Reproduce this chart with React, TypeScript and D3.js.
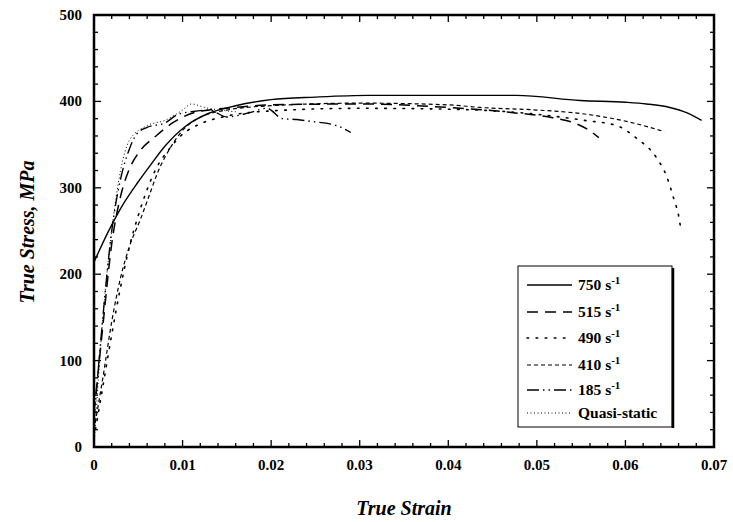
import React from 'react';
import * as d3 from 'd3';

// strain (x) / stress in MPa (y)
const s750: [number, number][] = [
  [0, 214], [0.0016, 249], [0.003, 276], [0.005, 307], [0.0065, 328], [0.008, 348], [0.0103, 371],
  [0.0129, 386], [0.016, 395], [0.02, 402], [0.025, 405], [0.031, 407], [0.0436, 407], [0.0477, 407],
  [0.0549, 401], [0.06, 399], [0.0624, 397], [0.065, 393], [0.0669, 387], [0.0686, 378],
];
const s515: [number, number][] = [
  [0, 40], [0.001, 140], [0.002, 235], [0.003, 290], [0.004, 322], [0.005, 340], [0.007, 360],
  [0.009, 376], [0.011, 386], [0.013, 390], [0.016, 393], [0.02, 396], [0.03, 397], [0.04, 393],
  [0.0473, 387], [0.0518, 381], [0.0545, 374], [0.056, 366], [0.057, 358],
];
const s490: [number, number][] = [
  [0, 10], [0.001, 70], [0.002, 130], [0.003, 185], [0.004, 232], [0.005, 268], [0.006, 298],
  [0.007, 322], [0.0085, 345], [0.01, 362], [0.012, 374], [0.015, 383], [0.02, 389], [0.03, 392],
  [0.04, 391], [0.048, 387], [0.0554, 378], [0.059, 372], [0.0613, 357], [0.0635, 335],
  [0.0647, 312], [0.0655, 286], [0.066, 268], [0.0663, 249],
];
const s410: [number, number][] = [
  [0, 20], [0.001, 80], [0.002, 145], [0.003, 196], [0.004, 232], [0.0053, 265], [0.0063, 293],
  [0.0072, 318], [0.0086, 346], [0.0098, 364], [0.0117, 380], [0.015, 390], [0.02, 395],
  [0.03, 398], [0.04, 396], [0.0436, 393], [0.05, 390], [0.0549, 386], [0.0605, 376], [0.0644, 365],
];
const s185: [number, number][] = [
  [0, 30], [0.001, 150], [0.002, 250], [0.003, 310], [0.004, 345], [0.0048, 362], [0.006, 370],
  [0.008, 375], [0.0095, 385], [0.011, 388], [0.013, 390], [0.015, 382], [0.0176, 387],
  [0.0195, 392], [0.0213, 380], [0.0229, 379], [0.0244, 377], [0.0274, 372], [0.029, 364],
];
const sQuasi: [number, number][] = [
  [0, 0], [0.001, 150], [0.002, 250], [0.003, 320], [0.004, 355], [0.006, 372], [0.008, 378],
  [0.01, 390], [0.011, 397], [0.0125, 393], [0.015, 389], [0.016, 388],
];

const seriesNames = ['750', '515', '490', '410', '185', 'Quasi-static'];
const seriesData = [s750, s515, s490, s410, s185, sQuasi];
const dashes = ['', '11,7', '1.6,7.5', '4,3', '12,4,1.5,4,1.5,4', '1,2.5'];
const widths = [1.4, 1.5, 1.6, 1.2, 1.4, 1];

const xTicks = [0, 0.01, 0.02, 0.03, 0.04, 0.05, 0.06, 0.07];
const yTicks = [0, 100, 200, 300, 400, 500];

const font = '"Liberation Serif", "DejaVu Serif", serif';

export default function App() {
  const x = d3.scaleLinear().domain([0, 0.07]).range([94, 714]);
  const y = d3.scaleLinear().domain([0, 500]).range([447, 15]);
  const line = d3.line<[number, number]>().x(d => x(d[0])).y(d => y(d[1])).curve(d3.curveMonotoneX);

  const xMinor = d3.range(0, 0.0701, 0.002);
  const yMinor = d3.range(0, 501, 20);

  const lx = 518, ly = 266, lw = 154, lh = 161;
  const rowY = [285, 312, 338, 365, 390, 413];

  return (
    <svg width={733} height={522} style={{ position: 'absolute', left: 0, top: 0 }}>
      <rect width={733} height={522} fill="#fff" />
      {/* ticks, inward on all four sides */}
      <g stroke="#000" strokeWidth={1.3}>
        {xMinor.map((v, i) => {
          const len = i % 5 === 0 ? 7 : 4;
          return (
            <g key={'x' + i}>
              <line x1={x(v)} x2={x(v)} y1={447} y2={447 - len} />
              <line x1={x(v)} x2={x(v)} y1={15} y2={15 + len} />
            </g>
          );
        })}
        {yMinor.map((v, i) => {
          const len = i % 5 === 0 ? 7 : 4;
          return (
            <g key={'y' + i}>
              <line x1={94} x2={94 + len} y1={y(v)} y2={y(v)} />
              <line x1={714} x2={714 - len} y1={y(v)} y2={y(v)} />
            </g>
          );
        })}
      </g>
      <rect x={94} y={15} width={620} height={432} fill="none" stroke="#000" strokeWidth={2.5} />
      {xTicks.map(v => (
        <text key={v} x={x(v)} y={470} textAnchor="middle" fontFamily={font} fontSize={15} fontWeight="bold">
          {v === 0 ? '0' : d3.format('.2f')(v)}
        </text>
      ))}
      {yTicks.map(v => (
        <text key={v} x={82} y={y(v) + 5} textAnchor="end" fontFamily={font} fontSize={15} fontWeight="bold">
          {v}
        </text>
      ))}
      <text x={404} y={515} textAnchor="middle" fontFamily={font} fontSize={20} fontWeight="bold" fontStyle="italic">
        True Strain
      </text>
      <text transform="translate(34,232) rotate(-90)" textAnchor="middle" fontFamily={font} fontSize={20}
        fontWeight="bold" fontStyle="italic">
        True Stress, MPa
      </text>
      <g fill="none" stroke="#000">
        {seriesData.map((d, i) => (
          <path key={i} d={line(d) || ''} strokeWidth={widths[i]} strokeDasharray={dashes[i]}
            strokeLinecap={i === 2 ? 'round' : 'butt'} />
        ))}
      </g>
      {/* legend */}
      <rect x={lx} y={ly} width={lw} height={lh} fill="#fff" stroke="#000" strokeWidth={1} />
      <line x1={lx + lw + 1} x2={lx + lw + 1} y1={ly + 2} y2={ly + lh + 1} stroke="#000" strokeWidth={2.5} />
      {seriesNames.map((n, i) => (
        <g key={n}>
          <line x1={527} x2={572} y1={rowY[i]} y2={rowY[i]} stroke="#000" strokeWidth={widths[i]}
            strokeDasharray={dashes[i]} strokeLinecap={i === 2 ? 'round' : 'butt'} />
          <text x={578} y={rowY[i] + 5} fontFamily={font} fontSize={15.5} fontWeight="bold">
            {n === 'Quasi-static' ? n : (
              <>
                {n} s<tspan dy={-6} fontSize={11}>-1</tspan>
              </>
            )}
          </text>
        </g>
      ))}
    </svg>
  );
}
